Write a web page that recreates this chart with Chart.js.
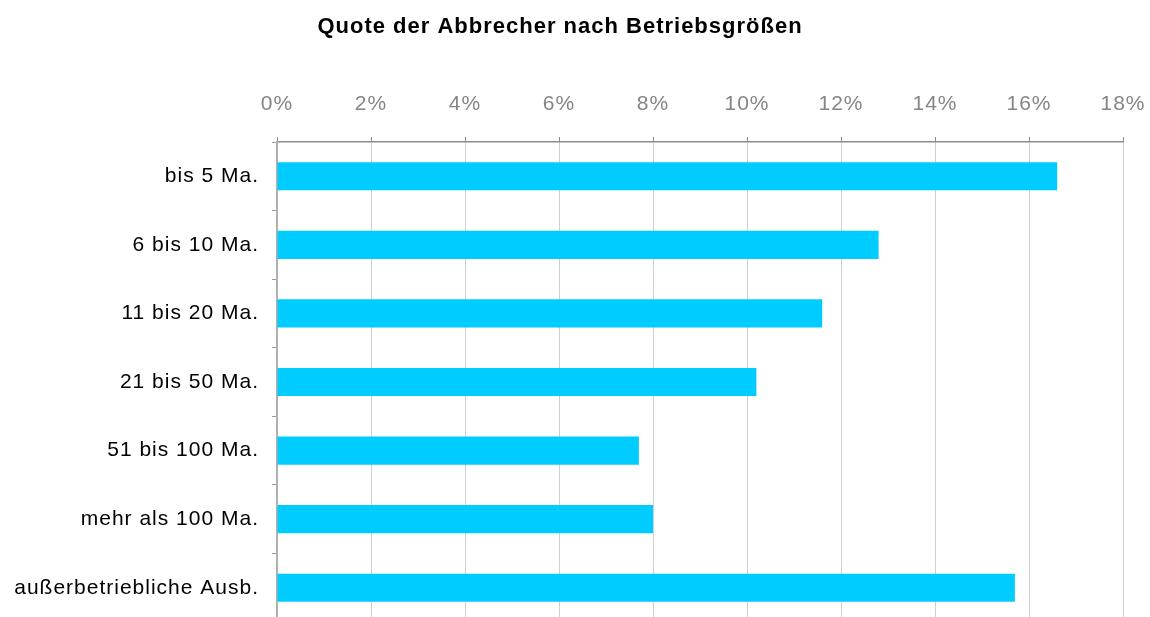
<!DOCTYPE html>
<html>
<head>
<meta charset="utf-8">
<script src="https://cdn.jsdelivr.net/npm/chart.js@4"></script>
<style>
  html, body { margin: 0; padding: 0; overflow: hidden; background: #fff; }
  canvas { display: block; }
</style>
</head>
<body>
<canvas id="chart" width="1150" height="622"></canvas>
<script>
const chartTitle = "Quote der Abbrecher nach Betriebsgrößen";
const categories = ["bis 5 Ma.", "6 bis 10 Ma.", "11 bis 20 Ma.", "21 bis 50 Ma.", "51 bis 100 Ma.", "mehr als 100 Ma.", "außerbetriebliche Ausb."];
const quote = [16.6, 12.8, 11.6, 10.2, 7.7, 8.0, 15.7];
const xTicks = [0, 2, 4, 6, 8, 10, 12, 14, 16, 18];

// canvas letter spacing gets reset whenever the canvas is resized
const spacing = {
  id: "spacing",
  beforeUpdate(chart) { chart.ctx.letterSpacing = "1px"; },
  beforeDraw(chart) { chart.ctx.letterSpacing = "1px"; }
};

// title sits left of centre in the original
const titleText = {
  id: "titleText",
  afterDraw(chart) {
    const ctx = chart.ctx;
    ctx.save();
    ctx.letterSpacing = "1px";
    ctx.font = "bold 22px 'Liberation Sans', Arial, sans-serif";
    ctx.fillStyle = "#000";
    ctx.textAlign = "center";
    ctx.textBaseline = "alphabetic";
    ctx.fillText(chartTitle, 560, 33);
    ctx.restore();
  }
};

function noPad(scale) {
  scale.paddingLeft = 0;
  scale.paddingRight = 0;
  scale.paddingTop = 0;
  scale.paddingBottom = 0;
}

new Chart(document.getElementById("chart"), {
  type: "bar",
  data: {
    labels: categories,
    datasets: [{
      data: quote,
      backgroundColor: "#00ccff",
      barPercentage: 0.41,
      categoryPercentage: 1
    }]
  },
  options: {
    indexAxis: "y",
    responsive: false,
    animation: false,
    layout: { padding: { top: 50, right: 27, left: 0, bottom: 0 } },
    plugins: {
      legend: { display: false },
      tooltip: { enabled: false },
      title: { display: false }
    },
    scales: {
      x: {
        position: "top",
        min: 0,
        max: 18,
        afterBuildTicks(scale) { scale.ticks = xTicks.map(v => ({ value: v })); },
        afterFit(scale) { scale.height = 92; noPad(scale); },
        ticks: {
          padding: 20,
          color: "#858585",
          font: { family: "'Liberation Sans', Arial, sans-serif", size: 21 },
          callback: v => v + "%"
        },
        grid: { color: "#cfcfcf", lineWidth: 1, tickLength: 5, tickColor: "#8c8c8c" },
        border: { color: "#8c8c8c", width: 1.5 }
      },
      y: {
        afterFit(scale) { scale.width = 277; noPad(scale); },
        ticks: {
          padding: 13,
          color: "#000",
          font: { family: "'Liberation Sans', Arial, sans-serif", size: 21 }
        },
        grid: { drawOnChartArea: false, offset: true, tickLength: 5, color: "#9a9a9a" },
        border: { color: "#b0b0b0", width: 2 }
      }
    }
  },
  plugins: [spacing, titleText]
});
</script>
</body>
</html>
